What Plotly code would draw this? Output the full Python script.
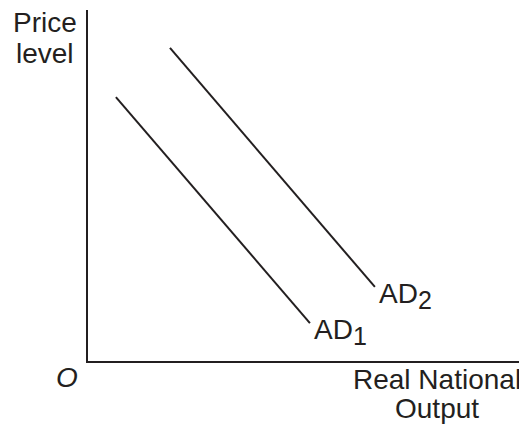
import plotly.graph_objects as go

# Curve endpoints (axis units, 0-10 scale)
ad1_x = [0.64, 5.09]
ad1_y = [7.52, 1.08]
ad2_x = [1.88, 6.58]
ad2_y = [8.92, 2.11]

curve_names = ["AD", "AD"]
curve_subs = ["1", "2"]
y_title_lines = ["Price", "level"]
x_title_lines = ["Real National", "Output"]
origin_label = "O"

ink = "#231f20"
font = "Liberation Sans, Arial, sans-serif"
fs = 28

fig = go.Figure()
for xs, ys in [(ad1_x, ad1_y), (ad2_x, ad2_y)]:
    fig.add_trace(go.Scatter(x=xs, y=ys, mode="lines",
                             line=dict(color=ink, width=2), showlegend=False,
                             hoverinfo="skip"))

for xs, ys, nm, sb in [(ad1_x, ad1_y, curve_names[0], curve_subs[0]),
                       (ad2_x, ad2_y, curve_names[1], curve_subs[1])]:
    fig.add_annotation(x=xs[1], y=ys[1],
                       text=nm + "<sub><span style='font-size:25px'>" + sb + "</span></sub>",
                       showarrow=False, xanchor="left", yanchor="top", xshift=2, yshift=11,
                       font=dict(size=fs, color=ink, family=font))

def paper_text(x, y, txt):
    fig.add_annotation(xref="paper", yref="paper", x=x, y=y, text=txt,
                       showarrow=False, xanchor="center", yanchor="middle",
                       font=dict(size=fs, color=ink, family=font))

paper_text(-0.0975, 0.963, y_title_lines[0])
paper_text(-0.0975, 0.876, y_title_lines[1])
paper_text(0.80, -0.0513, x_title_lines[0])
paper_text(0.80, -0.134, x_title_lines[1])
paper_text(-0.048, -0.048, "<i>" + origin_label + "</i>")

fig.update_xaxes(range=[0, 10], showline=True, linecolor=ink, linewidth=2,
                 showgrid=False, zeroline=False, showticklabels=False, ticks="")
fig.update_yaxes(range=[0, 10], showline=True, linecolor=ink, linewidth=2,
                 showgrid=False, zeroline=False, showticklabels=False, ticks="")

fig.update_layout(width=519, height=418, margin=dict(l=80, r=3, t=2, b=65),
                  plot_bgcolor="white", paper_bgcolor="white")

fig.write_html("out.html")
